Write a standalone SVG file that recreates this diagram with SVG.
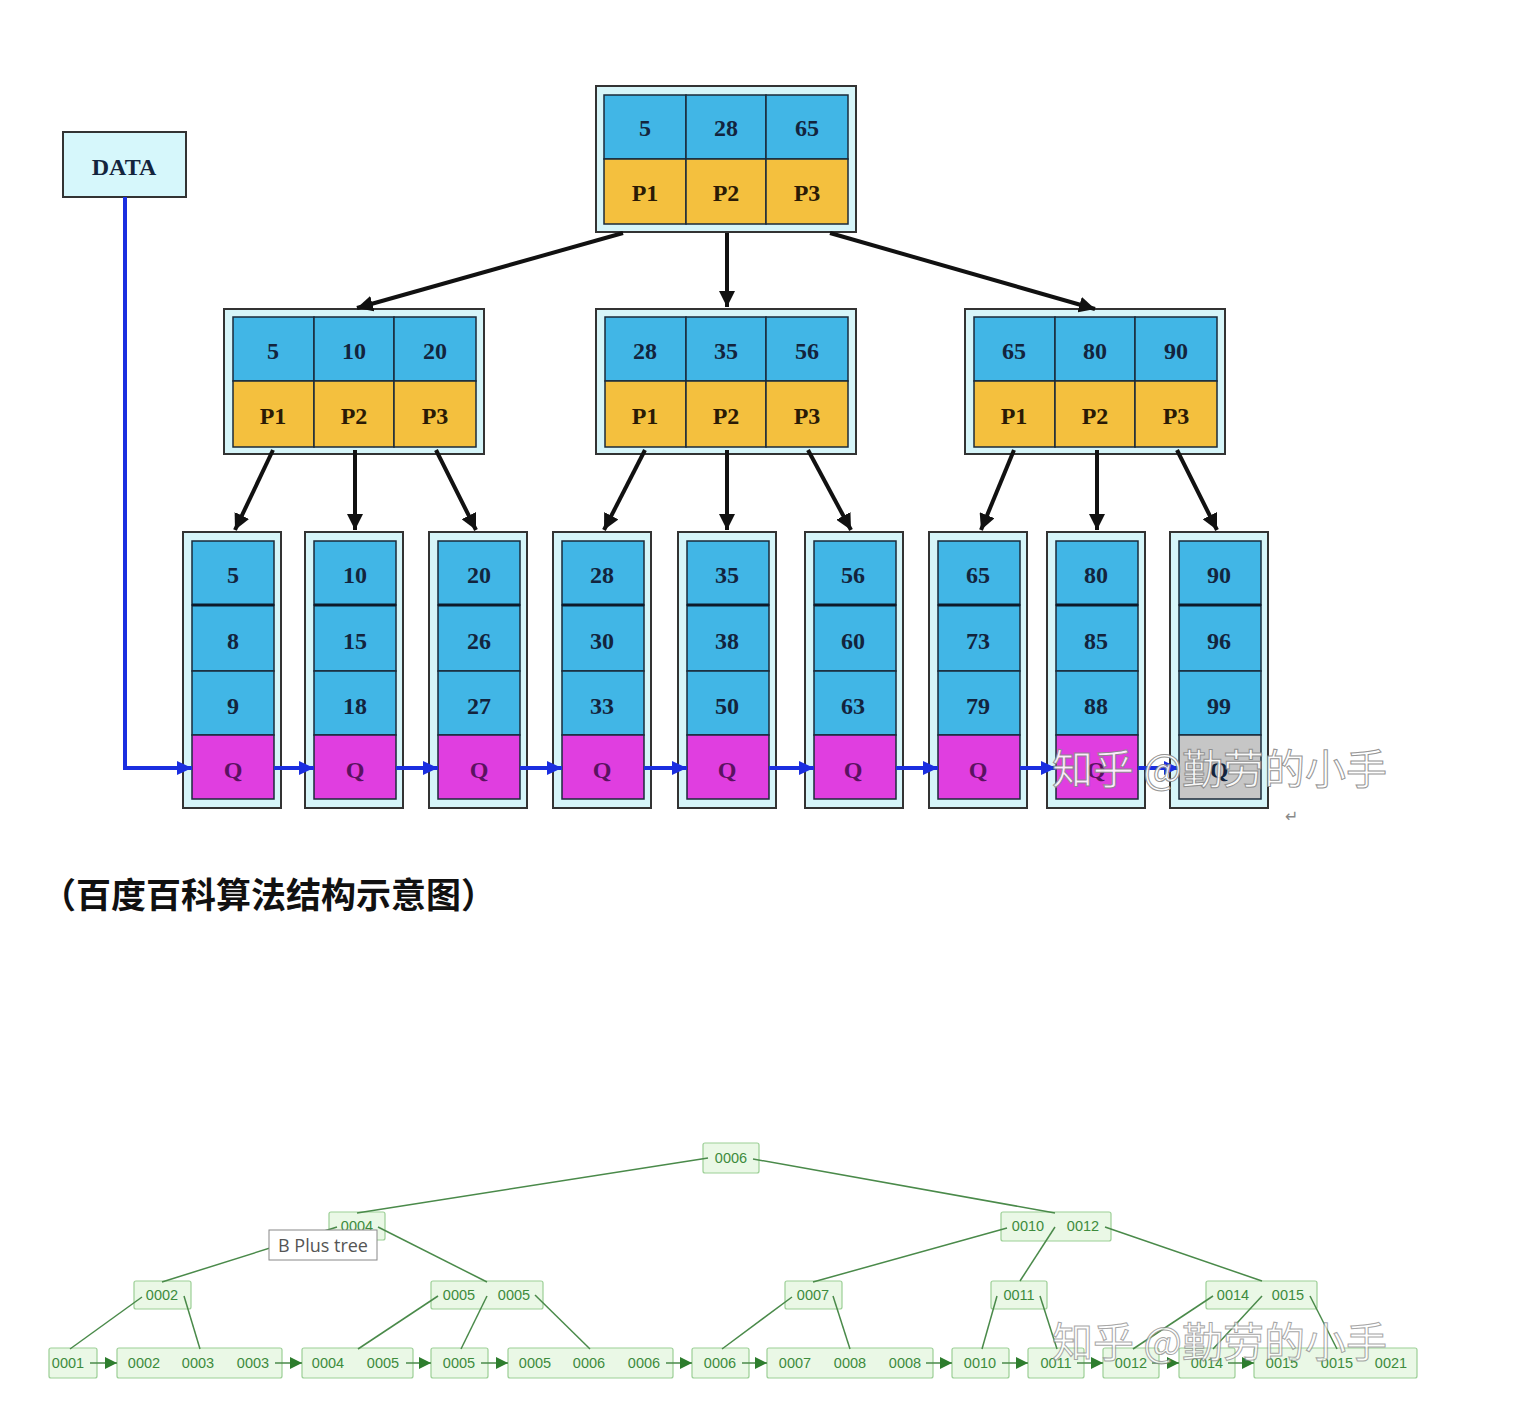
<svg xmlns="http://www.w3.org/2000/svg" width="1516" height="1404" viewBox="0 0 1516 1404">
<style>
.outer{fill:#d6f5f9;stroke:#333;stroke-width:2}
.kb{fill:#41b6e6;stroke:#1a2a3a;stroke-width:1.5}
.py{fill:#f4c03e;stroke:#1a2a3a;stroke-width:1.5}
.q{fill:#e03ee0;stroke:#1a2a3a;stroke-width:1.5}
.gr{fill:#c6c6c6;stroke:#1a2a3a;stroke-width:1.5}
.sep{stroke:#0d1a2a;stroke-width:3}
.t{font-family:"Liberation Serif",serif;font-weight:bold;font-size:24px;text-anchor:middle;fill:#13243d}
.tp{fill:#2a1a05}
.tq{fill:#5a1260}
.blk{stroke:#111;stroke-width:4;fill:none}
.blu{stroke:#1a2ee0;stroke-width:4;fill:none}
.gbox{fill:#eaf8e6;stroke:#9ccf96;stroke-width:1.2}
.gt{font-family:"Liberation Sans",sans-serif;font-size:14.5px;text-anchor:middle;fill:#3d8b3d}
.gl{stroke:#4a8a4a;stroke-width:1.5;fill:none}
.wm{font-family:"Noto Sans CJK SC",sans-serif;font-size:41px;fill:#fff;stroke:#8a8a8a;stroke-width:1;opacity:0.9}
</style>
<defs>
<marker id="ab" markerUnits="userSpaceOnUse" markerWidth="18" markerHeight="16" refX="16" refY="8" orient="auto"><path d="M0,0 L16,8 L0,16 Z" fill="#111"/></marker>
<marker id="au" markerUnits="userSpaceOnUse" markerWidth="16" markerHeight="16" refX="15" refY="8" orient="auto"><path d="M0,1 L15,8 L0,15 Z" fill="#1a2ee0"/></marker>
<marker id="ag" markerUnits="userSpaceOnUse" markerWidth="12" markerHeight="12" refX="12" refY="6" orient="auto"><path d="M0,0 L12,6 L0,12 Z" fill="#2e7d2e"/></marker>
</defs>
<rect width="1516" height="1404" fill="#fff"/>

<g id="data"><rect x="63" y="132" width="123" height="65" fill="#d6f7fb" stroke="#333" stroke-width="2"/><text class="t" x="124" y="175">DATA</text></g>

<g id="root">
<rect class="outer" x="596" y="86" width="260" height="146"/>
<rect class="kb" x="604" y="95" width="82" height="64"/><rect class="kb" x="686" y="95" width="80" height="64"/><rect class="kb" x="766" y="95" width="82" height="64"/>
<rect class="py" x="604" y="159" width="82" height="65"/><rect class="py" x="686" y="159" width="80" height="65"/><rect class="py" x="766" y="159" width="82" height="65"/>
<text class="t" x="645" y="136">5</text><text class="t" x="726" y="136">28</text><text class="t" x="807" y="136">65</text>
<text class="t tp" x="645" y="201">P1</text><text class="t tp" x="726" y="201">P2</text><text class="t tp" x="807" y="201">P3</text>
</g>

<g id="inner-left">
<rect class="outer" x="224" y="309" width="260" height="145"/>
<rect class="kb" x="233" y="317" width="81" height="64"/><rect class="kb" x="314" y="317" width="80" height="64"/><rect class="kb" x="394" y="317" width="82" height="64"/>
<rect class="py" x="233" y="381" width="81" height="66"/><rect class="py" x="314" y="381" width="80" height="66"/><rect class="py" x="394" y="381" width="82" height="66"/>
<text class="t" x="273" y="359">5</text><text class="t" x="354" y="359">10</text><text class="t" x="435" y="359">20</text>
<text class="t tp" x="273" y="424">P1</text><text class="t tp" x="354" y="424">P2</text><text class="t tp" x="435" y="424">P3</text>
</g>

<g id="inner-mid">
<rect class="outer" x="596" y="309" width="260" height="145"/>
<rect class="kb" x="605" y="317" width="81" height="64"/><rect class="kb" x="686" y="317" width="80" height="64"/><rect class="kb" x="766" y="317" width="82" height="64"/>
<rect class="py" x="605" y="381" width="81" height="66"/><rect class="py" x="686" y="381" width="80" height="66"/><rect class="py" x="766" y="381" width="82" height="66"/>
<text class="t" x="645" y="359">28</text><text class="t" x="726" y="359">35</text><text class="t" x="807" y="359">56</text>
<text class="t tp" x="645" y="424">P1</text><text class="t tp" x="726" y="424">P2</text><text class="t tp" x="807" y="424">P3</text>
</g>

<g id="inner-right">
<rect class="outer" x="965" y="309" width="260" height="145"/>
<rect class="kb" x="974" y="317" width="81" height="64"/><rect class="kb" x="1055" y="317" width="80" height="64"/><rect class="kb" x="1135" y="317" width="82" height="64"/>
<rect class="py" x="974" y="381" width="81" height="66"/><rect class="py" x="1055" y="381" width="80" height="66"/><rect class="py" x="1135" y="381" width="82" height="66"/>
<text class="t" x="1014" y="359">65</text><text class="t" x="1095" y="359">80</text><text class="t" x="1176" y="359">90</text>
<text class="t tp" x="1014" y="424">P1</text><text class="t tp" x="1095" y="424">P2</text><text class="t tp" x="1176" y="424">P3</text>
</g>

<g id="leaf1"><rect class="outer" x="183" y="532" width="98" height="276"/><rect class="kb" x="192" y="541" width="82" height="64"/><rect class="kb" x="192" y="605" width="82" height="66"/><rect class="kb" x="192" y="671" width="82" height="64"/><rect class="q" x="192" y="735" width="82" height="64"/><line class="sep" x1="192" y1="605" x2="274" y2="605"/><text class="t" x="233" y="583">5</text><text class="t" x="233" y="649">8</text><text class="t" x="233" y="714">9</text><text class="t tq" x="233" y="778">Q</text></g>
<g id="leaf2"><rect class="outer" x="305" y="532" width="98" height="276"/><rect class="kb" x="314" y="541" width="82" height="64"/><rect class="kb" x="314" y="605" width="82" height="66"/><rect class="kb" x="314" y="671" width="82" height="64"/><rect class="q" x="314" y="735" width="82" height="64"/><line class="sep" x1="314" y1="605" x2="396" y2="605"/><text class="t" x="355" y="583">10</text><text class="t" x="355" y="649">15</text><text class="t" x="355" y="714">18</text><text class="t tq" x="355" y="778">Q</text></g>
<g id="leaf3"><rect class="outer" x="429" y="532" width="98" height="276"/><rect class="kb" x="438" y="541" width="82" height="64"/><rect class="kb" x="438" y="605" width="82" height="66"/><rect class="kb" x="438" y="671" width="82" height="64"/><rect class="q" x="438" y="735" width="82" height="64"/><line class="sep" x1="438" y1="605" x2="520" y2="605"/><text class="t" x="479" y="583">20</text><text class="t" x="479" y="649">26</text><text class="t" x="479" y="714">27</text><text class="t tq" x="479" y="778">Q</text></g>
<g id="leaf4"><rect class="outer" x="553" y="532" width="98" height="276"/><rect class="kb" x="562" y="541" width="82" height="64"/><rect class="kb" x="562" y="605" width="82" height="66"/><rect class="kb" x="562" y="671" width="82" height="64"/><rect class="q" x="562" y="735" width="82" height="64"/><line class="sep" x1="562" y1="605" x2="644" y2="605"/><text class="t" x="602" y="583">28</text><text class="t" x="602" y="649">30</text><text class="t" x="602" y="714">33</text><text class="t tq" x="602" y="778">Q</text></g>
<g id="leaf5"><rect class="outer" x="678" y="532" width="98" height="276"/><rect class="kb" x="687" y="541" width="82" height="64"/><rect class="kb" x="687" y="605" width="82" height="66"/><rect class="kb" x="687" y="671" width="82" height="64"/><rect class="q" x="687" y="735" width="82" height="64"/><line class="sep" x1="687" y1="605" x2="769" y2="605"/><text class="t" x="727" y="583">35</text><text class="t" x="727" y="649">38</text><text class="t" x="727" y="714">50</text><text class="t tq" x="727" y="778">Q</text></g>
<g id="leaf6"><rect class="outer" x="805" y="532" width="98" height="276"/><rect class="kb" x="814" y="541" width="82" height="64"/><rect class="kb" x="814" y="605" width="82" height="66"/><rect class="kb" x="814" y="671" width="82" height="64"/><rect class="q" x="814" y="735" width="82" height="64"/><line class="sep" x1="814" y1="605" x2="896" y2="605"/><text class="t" x="853" y="583">56</text><text class="t" x="853" y="649">60</text><text class="t" x="853" y="714">63</text><text class="t tq" x="853" y="778">Q</text></g>
<g id="leaf7"><rect class="outer" x="929" y="532" width="98" height="276"/><rect class="kb" x="938" y="541" width="82" height="64"/><rect class="kb" x="938" y="605" width="82" height="66"/><rect class="kb" x="938" y="671" width="82" height="64"/><rect class="q" x="938" y="735" width="82" height="64"/><line class="sep" x1="938" y1="605" x2="1020" y2="605"/><text class="t" x="978" y="583">65</text><text class="t" x="978" y="649">73</text><text class="t" x="978" y="714">79</text><text class="t tq" x="978" y="778">Q</text></g>
<g id="leaf8"><rect class="outer" x="1047" y="532" width="98" height="276"/><rect class="kb" x="1056" y="541" width="82" height="64"/><rect class="kb" x="1056" y="605" width="82" height="66"/><rect class="kb" x="1056" y="671" width="82" height="64"/><rect class="q" x="1056" y="735" width="82" height="64"/><line class="sep" x1="1056" y1="605" x2="1138" y2="605"/><text class="t" x="1096" y="583">80</text><text class="t" x="1096" y="649">85</text><text class="t" x="1096" y="714">88</text><text class="t tq" x="1096" y="778">Q</text></g>
<g id="leaf9"><rect class="outer" x="1170" y="532" width="98" height="276"/><rect class="kb" x="1179" y="541" width="82" height="64"/><rect class="kb" x="1179" y="605" width="82" height="66"/><rect class="kb" x="1179" y="671" width="82" height="64"/><rect class="gr" x="1179" y="735" width="82" height="64"/><line class="sep" x1="1179" y1="605" x2="1261" y2="605"/><text class="t" x="1219" y="583">90</text><text class="t" x="1219" y="649">96</text><text class="t" x="1219" y="714">99</text><text class="t" x="1219" y="778" fill="#222">Q</text></g>

<g id="connectors-top">
<line class="blk" x1="623" y1="233" x2="357" y2="308" marker-end="url(#ab)"/>
<line class="blk" x1="727" y1="233" x2="727" y2="307" marker-end="url(#ab)"/>
<line class="blk" x1="830" y1="233" x2="1095" y2="309" marker-end="url(#ab)"/>
<line class="blk" x1="273" y1="450" x2="235" y2="530" marker-end="url(#ab)"/>
<line class="blk" x1="355" y1="450" x2="355" y2="530" marker-end="url(#ab)"/>
<line class="blk" x1="436" y1="450" x2="476" y2="530" marker-end="url(#ab)"/>
<line class="blk" x1="645" y1="450" x2="604" y2="530" marker-end="url(#ab)"/>
<line class="blk" x1="727" y1="450" x2="727" y2="530" marker-end="url(#ab)"/>
<line class="blk" x1="808" y1="450" x2="851" y2="530" marker-end="url(#ab)"/>
<line class="blk" x1="1014" y1="450" x2="981" y2="530" marker-end="url(#ab)"/>
<line class="blk" x1="1097" y1="450" x2="1097" y2="530" marker-end="url(#ab)"/>
<line class="blk" x1="1177" y1="450" x2="1217" y2="530" marker-end="url(#ab)"/>
<path class="blu" d="M125,197 V768 H192" marker-end="url(#au)"/>
<line class="blu" x1="274" y1="768" x2="314" y2="768" marker-end="url(#au)"/>
<line class="blu" x1="396" y1="768" x2="438" y2="768" marker-end="url(#au)"/>
<line class="blu" x1="520" y1="768" x2="562" y2="768" marker-end="url(#au)"/>
<line class="blu" x1="644" y1="768" x2="687" y2="768" marker-end="url(#au)"/>
<line class="blu" x1="769" y1="768" x2="814" y2="768" marker-end="url(#au)"/>
<line class="blu" x1="896" y1="768" x2="938" y2="768" marker-end="url(#au)"/>
<line class="blu" x1="1020" y1="768" x2="1056" y2="768" marker-end="url(#au)"/>
<line class="blu" x1="1138" y1="768" x2="1179" y2="768" marker-end="url(#au)"/>
</g>

<text class="wm" x="1052" y="784">知乎 @勤劳的小手</text>
<text x="1285" y="822" font-family="DejaVu Sans, sans-serif" font-size="16" fill="#888">↵</text>

<text x="41" y="908" font-family="'Noto Sans CJK SC', sans-serif" font-weight="bold" font-size="35" fill="#111">（百度百科算法结构示意图）</text>

<g id="g-root"><rect class="gbox" x="703" y="1143" width="56" height="30" rx="2"/><text class="gt" x="731" y="1163">0006</text></g>
<g id="g-0004"><rect class="gbox" x="329" y="1212" width="56" height="28" rx="2"/><text class="gt" x="357" y="1231">0004</text></g>
<g id="g-0010-0012"><rect class="gbox" x="1001" y="1212" width="110" height="29" rx="2"/><text class="gt" x="1028" y="1231">0010</text><text class="gt" x="1083" y="1231">0012</text></g>
<g id="g-0002"><rect class="gbox" x="134" y="1281" width="57" height="28" rx="2"/><text class="gt" x="162" y="1300">0002</text></g>
<g id="g-0005-0005"><rect class="gbox" x="431" y="1281" width="112" height="28" rx="2"/><text class="gt" x="459" y="1300">0005</text><text class="gt" x="514" y="1300">0005</text></g>
<g id="g-0007"><rect class="gbox" x="785" y="1281" width="57" height="28" rx="2"/><text class="gt" x="813" y="1300">0007</text></g>
<g id="g-0011"><rect class="gbox" x="991" y="1281" width="56" height="28" rx="2"/><text class="gt" x="1019" y="1300">0011</text></g>
<g id="g-0014-0015"><rect class="gbox" x="1206" y="1281" width="111" height="28" rx="2"/><text class="gt" x="1233" y="1300">0014</text><text class="gt" x="1288" y="1300">0015</text></g>

<g id="g-l1"><rect class="gbox" x="49" y="1348" width="48" height="30" rx="2"/><text class="gt" x="68" y="1368">0001</text></g>
<g id="g-l2"><rect class="gbox" x="117" y="1348" width="165" height="30" rx="2"/><text class="gt" x="144" y="1368">0002</text><text class="gt" x="198" y="1368">0003</text><text class="gt" x="253" y="1368">0003</text></g>
<g id="g-l3"><rect class="gbox" x="302" y="1348" width="111" height="30" rx="2"/><text class="gt" x="328" y="1368">0004</text><text class="gt" x="383" y="1368">0005</text></g>
<g id="g-l4"><rect class="gbox" x="431" y="1348" width="57" height="30" rx="2"/><text class="gt" x="459" y="1368">0005</text></g>
<g id="g-l5"><rect class="gbox" x="508" y="1348" width="165" height="30" rx="2"/><text class="gt" x="535" y="1368">0005</text><text class="gt" x="589" y="1368">0006</text><text class="gt" x="644" y="1368">0006</text></g>
<g id="g-l6"><rect class="gbox" x="692" y="1348" width="57" height="30" rx="2"/><text class="gt" x="720" y="1368">0006</text></g>
<g id="g-l7"><rect class="gbox" x="767" y="1348" width="166" height="30" rx="2"/><text class="gt" x="795" y="1368">0007</text><text class="gt" x="850" y="1368">0008</text><text class="gt" x="905" y="1368">0008</text></g>
<g id="g-l8"><rect class="gbox" x="952" y="1348" width="57" height="30" rx="2"/><text class="gt" x="980" y="1368">0010</text></g>
<g id="g-l9"><rect class="gbox" x="1028" y="1348" width="56" height="30" rx="2"/><text class="gt" x="1056" y="1368">0011</text></g>
<g id="g-l10"><rect class="gbox" x="1103" y="1348" width="56" height="30" rx="2"/><text class="gt" x="1131" y="1368">0012</text></g>
<g id="g-l11"><rect class="gbox" x="1179" y="1348" width="56" height="30" rx="2"/><text class="gt" x="1207" y="1368">0014</text></g>
<g id="g-l12"><rect class="gbox" x="1254" y="1348" width="163" height="30" rx="2"/><text class="gt" x="1282" y="1368">0015</text><text class="gt" x="1337" y="1368">0015</text><text class="gt" x="1391" y="1368">0021</text></g>

<g id="connectors-bottom">
<line class="gl" x1="708" y1="1158" x2="357" y2="1213"/>
<line class="gl" x1="753" y1="1159" x2="1055" y2="1213"/>
<line class="gl" x1="337" y1="1227" x2="162" y2="1282"/>
<line class="gl" x1="378" y1="1227" x2="487" y2="1282"/>
<line class="gl" x1="1007" y1="1228" x2="813" y2="1282"/>
<line class="gl" x1="1055" y1="1227" x2="1020" y2="1281"/>
<line class="gl" x1="1105" y1="1227" x2="1262" y2="1281"/>
<line class="gl" x1="142" y1="1297" x2="70" y2="1349"/>
<line class="gl" x1="184" y1="1296" x2="200" y2="1349"/>
<line class="gl" x1="438" y1="1296" x2="358" y2="1349"/>
<line class="gl" x1="487" y1="1296" x2="461" y2="1349"/>
<line class="gl" x1="535" y1="1295" x2="590" y2="1349"/>
<line class="gl" x1="792" y1="1297" x2="722" y2="1349"/>
<line class="gl" x1="833" y1="1296" x2="850" y2="1349"/>
<line class="gl" x1="997" y1="1296" x2="982" y2="1349"/>
<line class="gl" x1="1040" y1="1296" x2="1057" y2="1349"/>
<line class="gl" x1="1213" y1="1296" x2="1133" y2="1349"/>
<line class="gl" x1="1262" y1="1296" x2="1213" y2="1349"/>
<line class="gl" x1="1310" y1="1296" x2="1337" y2="1349"/>
<line class="gl" x1="90" y1="1363" x2="117" y2="1363" marker-end="url(#ag)"/>
<line class="gl" x1="275" y1="1363" x2="302" y2="1363" marker-end="url(#ag)"/>
<line class="gl" x1="406" y1="1363" x2="431" y2="1363" marker-end="url(#ag)"/>
<line class="gl" x1="481" y1="1363" x2="508" y2="1363" marker-end="url(#ag)"/>
<line class="gl" x1="666" y1="1363" x2="692" y2="1363" marker-end="url(#ag)"/>
<line class="gl" x1="742" y1="1363" x2="767" y2="1363" marker-end="url(#ag)"/>
<line class="gl" x1="926" y1="1363" x2="952" y2="1363" marker-end="url(#ag)"/>
<line class="gl" x1="1002" y1="1363" x2="1028" y2="1363" marker-end="url(#ag)"/>
<line class="gl" x1="1077" y1="1363" x2="1103" y2="1363" marker-end="url(#ag)"/>
<line class="gl" x1="1152" y1="1363" x2="1179" y2="1363" marker-end="url(#ag)"/>
<line class="gl" x1="1228" y1="1363" x2="1254" y2="1363" marker-end="url(#ag)"/>
</g>

<g id="tooltip"><rect x="269" y="1230" width="108" height="30" fill="#fff" stroke="#888" stroke-width="1"/><text x="323" y="1252" font-family="'Open Sans', 'Liberation Sans', sans-serif" font-size="18" text-anchor="middle" fill="#555">B Plus tree</text></g>

<text class="wm" x="1052" y="1357" style="opacity:0.75">知乎 @勤劳的小手</text>
</svg>
